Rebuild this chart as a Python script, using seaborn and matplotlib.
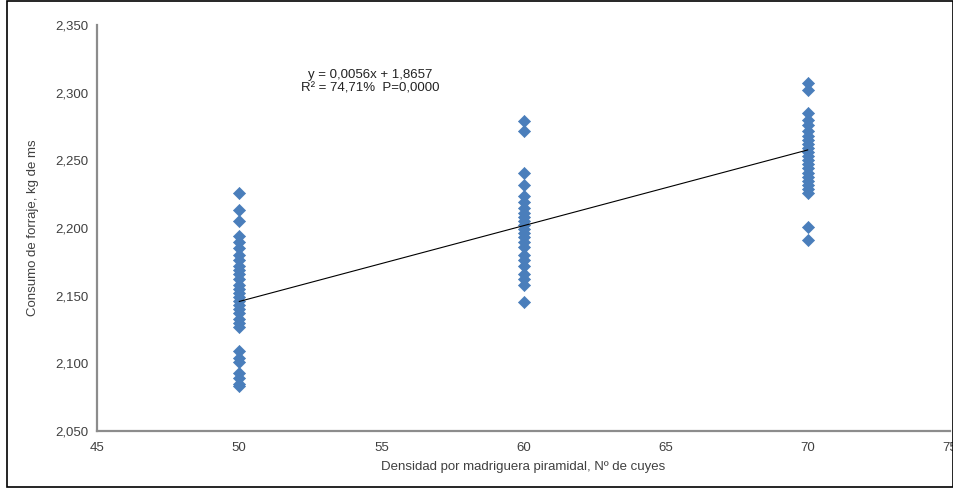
import numpy as np
import pandas as pd
import seaborn as sns
import matplotlib.pyplot as plt
import matplotlib.ticker as mticker
from matplotlib.patches import Rectangle

# consumption readings (kg de ms) per density group
consumo_50 = [2.226, 2.213, 2.205, 2.194, 2.190, 2.185, 2.180, 2.176, 2.172, 2.169,
              2.166, 2.162, 2.158, 2.155, 2.152, 2.149, 2.146, 2.143, 2.140, 2.137,
              2.133, 2.130, 2.127, 2.109, 2.104, 2.101, 2.093, 2.089, 2.085, 2.083]
consumo_60 = [2.279, 2.272, 2.241, 2.232, 2.224, 2.219, 2.215, 2.211, 2.208, 2.205,
              2.202, 2.199, 2.196, 2.193, 2.190, 2.186, 2.180, 2.176, 2.172, 2.166,
              2.162, 2.158, 2.145]
consumo_70 = [2.307, 2.302, 2.285, 2.280, 2.276, 2.272, 2.268, 2.265, 2.262, 2.259,
              2.256, 2.253, 2.250, 2.247, 2.244, 2.241, 2.238, 2.235, 2.232, 2.229,
              2.226, 2.201, 2.191]
densidades = [50, 60, 70]

slope = 0.0056
intercept = 1.8657
equation_text = "y = 0,0056x + 1,8657\nR² = 74,71%  P=0,0000"

x_ticks = [45, 50, 55, 60, 65, 70, 75]
y_ticks = [2.05, 2.10, 2.15, 2.20, 2.25, 2.30, 2.35]


def create_plot(data: pd.DataFrame, path: str):
    sns.set_theme(style="white")
    plt.rcParams['font.family'] = ['Liberation Sans', 'DejaVu Sans']

    fig = plt.figure(figsize=(9.54, 4.88), dpi=100)
    ax = fig.add_axes([0.1017, 0.1168, 0.8941, 0.832])

    sns.scatterplot(data=data, x='densidad', y='consumo', marker='D', s=38,
                    color='#4A7EBB', edgecolor='#4A7EBB', linewidth=0.5, ax=ax)

    xs = np.array([data['densidad'].min(), data['densidad'].max()])
    ax.plot(xs, slope * xs + intercept, color='black', linewidth=0.8)

    ax.text(54.6, 2.308, equation_text, ha='center', va='center',
            fontsize=9.5, color='#222222', linespacing=1.15)

    ax.set_xlim(45, 75)
    ax.set_ylim(2.05, 2.35)
    ax.set_xticks(x_ticks)
    ax.set_yticks(y_ticks)
    ax.yaxis.set_major_formatter(
        mticker.FuncFormatter(lambda v, p: f"{v:.3f}".replace('.', ',')))

    ax.set_xlabel('Densidad por madriguera piramidal, Nº de cuyes',
                  fontsize=9.5, color='#404040', labelpad=5)
    ax.set_ylabel('Consumo de forraje, kg de ms', fontsize=9.5, color='#404040', labelpad=12)
    ax.tick_params(axis='y', labelsize=9.5, colors='#404040', length=0, pad=6)
    ax.tick_params(axis='x', labelsize=9.5, colors='#404040', length=0, pad=8)

    sns.despine(ax=ax)
    for side in ['left', 'bottom']:
        ax.spines[side].set_color('#8c8c8c')
        ax.spines[side].set_linewidth(1.6)

    fig.add_artist(Rectangle((0.007, 0.003), 0.992, 0.994, transform=fig.transFigure,
                             fill=False, edgecolor='black', linewidth=1.2))

    plt.savefig(path, format='png', dpi=100)


def main():
    data = pd.DataFrame({
        'densidad': [densidades[0]] * len(consumo_50)
                    + [densidades[1]] * len(consumo_60)
                    + [densidades[2]] * len(consumo_70),
        'consumo': consumo_50 + consumo_60 + consumo_70,
    })
    create_plot(data, 'out.png')


if __name__ == "__main__":
    main()
